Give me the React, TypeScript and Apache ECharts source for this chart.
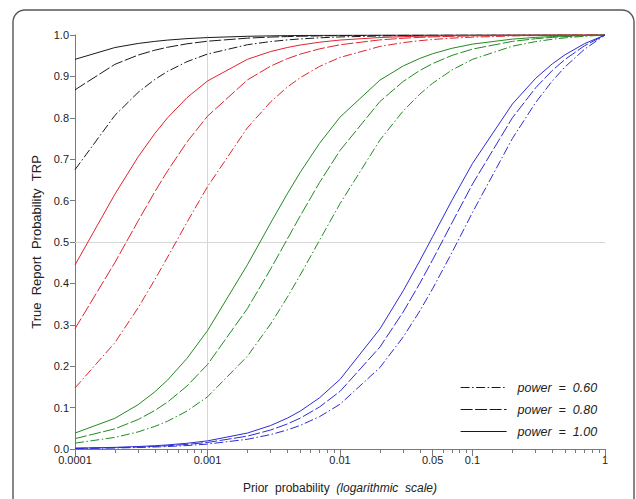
import React, { useEffect, useRef } from "react";
import * as echarts from "echarts";

// Prior probability (x, log scale)
const priorProbability = [
  0.0001, 0.0002, 0.0003, 0.0004, 0.0005, 0.0007,
  0.001, 0.002, 0.003, 0.004, 0.005, 0.007,
  0.01, 0.02, 0.03, 0.04, 0.05, 0.07,
  0.1, 0.2, 0.3, 0.4, 0.5, 0.7, 1,
];

// True Report Probability values
const black100 = [0.9412, 0.9697, 0.9796, 0.9846, 0.9877, 0.9912, 0.9938, 0.9969, 0.9979, 0.9984, 0.9988, 0.9991, 0.9994, 0.9997, 0.9998, 0.9999, 0.9999, 0.9999, 0.9999, 1.0, 1.0, 1.0, 1.0, 1.0, 1.0];
const black080 = [0.8676, 0.9291, 0.9516, 0.9633, 0.9704, 0.9787, 0.985, 0.9924, 0.995, 0.9962, 0.997, 0.9978, 0.9985, 0.9993, 0.9995, 0.9996, 0.9997, 0.9998, 0.9999, 0.9999, 1.0, 1.0, 1.0, 1.0, 1.0];
const black060 = [0.6747, 0.8058, 0.8616, 0.8925, 0.9121, 0.9356, 0.954, 0.9765, 0.9842, 0.9881, 0.9905, 0.9932, 0.9953, 0.9976, 0.9984, 0.9988, 0.9991, 0.9994, 0.9996, 0.9998, 0.9999, 0.9999, 1.0, 1.0, 1.0];
const red100 = [0.4445, 0.6154, 0.7059, 0.762, 0.8001, 0.8486, 0.889, 0.9413, 0.9601, 0.9698, 0.9757, 0.9826, 0.9878, 0.9939, 0.996, 0.997, 0.9976, 0.9983, 0.9989, 0.9995, 0.9997, 0.9998, 0.9999, 1.0, 1.0];
const red080 = [0.2906, 0.4504, 0.5514, 0.6211, 0.672, 0.7416, 0.8039, 0.8914, 0.925, 0.9427, 0.9537, 0.9665, 0.9764, 0.9882, 0.9922, 0.9942, 0.9954, 0.9968, 0.9978, 0.999, 0.9994, 0.9996, 0.9998, 0.9999, 1.0];
const red060 = [0.1474, 0.2569, 0.3415, 0.4088, 0.4636, 0.5476, 0.6337, 0.7759, 0.8387, 0.8741, 0.8967, 0.9241, 0.9458, 0.9724, 0.9816, 0.9863, 0.9891, 0.9924, 0.9948, 0.9977, 0.9987, 0.9991, 0.9994, 0.9998, 1.0];
const green100 = [0.0385, 0.0741, 0.1072, 0.138, 0.1667, 0.2189, 0.2859, 0.4449, 0.5462, 0.6163, 0.6678, 0.7382, 0.8016, 0.8909, 0.9252, 0.9434, 0.9547, 0.9679, 0.978, 0.9901, 0.9942, 0.9963, 0.9975, 0.9989, 1.0];
const green080 = [0.025, 0.0487, 0.0713, 0.0929, 0.1135, 0.1521, 0.204, 0.3391, 0.4351, 0.5069, 0.5626, 0.6435, 0.7211, 0.8393, 0.8879, 0.9143, 0.9309, 0.9507, 0.966, 0.9846, 0.991, 0.9942, 0.9961, 0.9983, 1.0];
const green060 = [0.0142, 0.028, 0.0414, 0.0545, 0.0672, 0.0916, 0.126, 0.224, 0.3023, 0.3664, 0.4198, 0.5038, 0.5926, 0.7461, 0.8166, 0.8571, 0.8834, 0.9155, 0.9412, 0.973, 0.9841, 0.9897, 0.9931, 0.997, 1.0];
const blue100 = [0.002, 0.004, 0.006, 0.0079, 0.0099, 0.0138, 0.0196, 0.0385, 0.0568, 0.0744, 0.0913, 0.1236, 0.1681, 0.2899, 0.3822, 0.4545, 0.5128, 0.6009, 0.6897, 0.8333, 0.8955, 0.9302, 0.9524, 0.979, 1.0];
const blue080 = [0.0016, 0.0032, 0.0048, 0.0064, 0.0079, 0.0111, 0.0158, 0.0311, 0.0459, 0.0604, 0.0744, 0.1014, 0.1391, 0.2462, 0.331, 0.4, 0.4571, 0.5463, 0.64, 0.8, 0.8727, 0.9143, 0.9412, 0.9739, 1.0];
const blue060 = [0.0012, 0.0024, 0.0036, 0.0048, 0.006, 0.0083, 0.0119, 0.0235, 0.0349, 0.046, 0.0569, 0.078, 0.1081, 0.1967, 0.2707, 0.3333, 0.3871, 0.4746, 0.5714, 0.75, 0.8372, 0.8889, 0.9231, 0.9655, 1.0];

// Tick values
const xMajorTicks = [0.0001, 0.001, 0.01, 0.05, 0.1, 1];
const xMinorTicks = [
  0.0002, 0.0003, 0.0004, 0.0005, 0.0006, 0.0007, 0.0008, 0.0009,
  0.002, 0.003, 0.004, 0.005, 0.006, 0.007, 0.008, 0.009,
  0.02, 0.03, 0.04, 0.05, 0.06, 0.07, 0.08, 0.09,
  0.2, 0.3, 0.4, 0.5, 0.6, 0.7, 0.8, 0.9,
];
// Reference lines
const referenceX = [0.001];
const referenceY = [0.5];
const yRange = [0, 1];

const powerLabels = [
  "power\u00a0\u00a0=\u00a0\u00a00.60",
  "power\u00a0\u00a0=\u00a0\u00a00.80",
  "power\u00a0\u00a0=\u00a0\u00a01.00",
];

const COLORS = { black: "#1a1a1a", red: "#e0242c", green: "#228b22", blue: "#2c2cd4" };
const DASH: Record<string, any> = {
  "0.60": [9, 2.5, 1.5, 2.5],
  "0.80": [12, 2.5],
  "1.00": "solid",
};

const FONT = "'Liberation Sans', Arial, sans-serif";

export default function App() {
  const ref = useRef<HTMLDivElement>(null);

  useEffect(() => {
    if (!ref.current) return;
    const chart = echarts.init(ref.current, undefined, { renderer: "svg" });

    const groups: { key: string; color: string; sets: [string, number[]][] }[] = [
      { key: "black", color: COLORS.black, sets: [["0.60", black060], ["0.80", black080], ["1.00", black100]] },
      { key: "red", color: COLORS.red, sets: [["0.60", red060], ["0.80", red080], ["1.00", red100]] },
      { key: "green", color: COLORS.green, sets: [["0.60", green060], ["0.80", green080], ["1.00", green100]] },
      { key: "blue", color: COLORS.blue, sets: [["0.60", blue060], ["0.80", blue080], ["1.00", blue100]] },
    ];

    const series: any[] = [];

    // light reference lines
    referenceX.forEach((v, i) => {
      series.push({
        name: `refX${i}`,
        type: "line",
        xAxisIndex: 0,
        yAxisIndex: 0,
        data: yRange.map((y) => [v, y]),
        symbol: "none",
        silent: true,
        color: "#d6d6d6",
        lineStyle: { color: "#d6d6d6", width: 1, type: "solid" },
        z: 1,
      });
    });
    series.push({
      name: "refY",
      type: "line",
      xAxisIndex: 0,
      yAxisIndex: 0,
      data: [],
      symbol: "none",
      silent: true,
      markLine: {
        silent: true,
        symbol: ["none", "none"],
        label: { show: false },
        z: 1,
        lineStyle: { color: "#d6d6d6", type: "solid", width: 1 },
        data: referenceY.map((v) => ({ yAxis: v })),
      },
      z: 1,
    });

    groups.forEach((g) => {
      g.sets.forEach(([pw, vals], i) => {
        const name = g.key === "black" ? powerLabels[i] : `${g.key} power ${pw}`;
        series.push({
          name,
          type: "line",
          xAxisIndex: 0,
          yAxisIndex: 0,
          data: priorProbability.map((p, k) => [p, vals[k]]),
          symbol: "none",
          showSymbol: false,
          smooth: false,
          color: g.color,
          lineStyle: { color: g.color, width: 1, type: DASH[pw] },
          z: 3,
        });
      });
    });

    chart.setOption({
      animation: false,
      backgroundColor: "#ffffff",
      textStyle: { fontFamily: FONT },
      grid: { left: 75, top: 35, right: 31, bottom: 47, containLabel: false },
      legend: {
        data: [powerLabels[0], powerLabels[1], powerLabels[2]],
        orient: "vertical",
        left: 460,
        top: 381,
        padding: 0,
        itemWidth: 46,
        itemHeight: 14,
        itemGap: 9,
        selectedMode: false,
        itemStyle: { opacity: 0, color: "rgba(0,0,0,0)", borderWidth: 0 },
        lineStyle: { width: 1.2, opacity: 1 },
        textStyle: {
          fontFamily: FONT,
          fontSize: 12.5,
          fontStyle: "italic",
          color: "#222",
          padding: [0, 0, 0, 6],
        },
      },
      xAxis: [
        {
          type: "log",
          logBase: 10,
          min: 0.0001,
          max: 1,
          axisLine: { show: true, lineStyle: { color: "#7a7a7a", width: 1 } },
          axisTick: { show: true, customValues: xMinorTicks, length: 4, lineStyle: { color: "#7a7a7a" } },
          axisLabel: { show: false },
          splitLine: { show: false },
          minorTick: { show: false },
        },
        {
          type: "log",
          logBase: 10,
          min: 0.0001,
          max: 1,
          position: "bottom",
          axisLine: { show: false },
          axisTick: { show: true, customValues: xMajorTicks, length: 7, lineStyle: { color: "#7a7a7a" } },
          axisLabel: {
            show: true,
            customValues: xMajorTicks,
            formatter: (v: number) => String(v),
            fontSize: 11,
            color: "#222",
            margin: 5,
            fontFamily: FONT,
          },
          splitLine: { show: false },
          name: "{a|Prior\u00a0\u00a0probability\u00a0\u00a0}{b|(logarithmic\u00a0\u00a0scale)}",
          nameLocation: "middle",
          nameGap: 33,
          nameTextStyle: {
            rich: {
              a: { fontSize: 12, color: "#222", fontFamily: FONT },
              b: { fontSize: 12, color: "#222", fontStyle: "italic", fontFamily: FONT },
            },
          },
        },
      ],
      yAxis: {
        type: "value",
        min: 0,
        max: 1,
        interval: 0.1,
        axisLine: { show: true, lineStyle: { color: "#7a7a7a", width: 1 } },
        axisTick: { show: true, length: 5, lineStyle: { color: "#7a7a7a" } },
        axisLabel: {
          formatter: (v: number) => v.toFixed(1),
          fontSize: 11,
          color: "#222",
          margin: 6,
          fontFamily: FONT,
        },
        splitLine: { show: false },
        name: "True\u00a0\u00a0Report\u00a0\u00a0Probability\u00a0\u00a0TRP",
        nameLocation: "middle",
        nameGap: 27,
        nameRotate: 90,
        nameTextStyle: { fontSize: 13, color: "#222", fontFamily: FONT },
      },
      graphic: [
        {
          type: "rect",
          silent: true,
          z: 100,
          shape: { x: 13, y: 10, width: 621, height: 520, r: 12 },
          style: { fill: "none", stroke: "#555", lineWidth: 1.4 },
        },
      ],
      series,
    });

    return () => chart.dispose();
  }, []);

  return (
    <div
      ref={ref}
      style={{ position: "fixed", left: 0, top: 0, width: 636, height: 499 }}
    />
  );
}
